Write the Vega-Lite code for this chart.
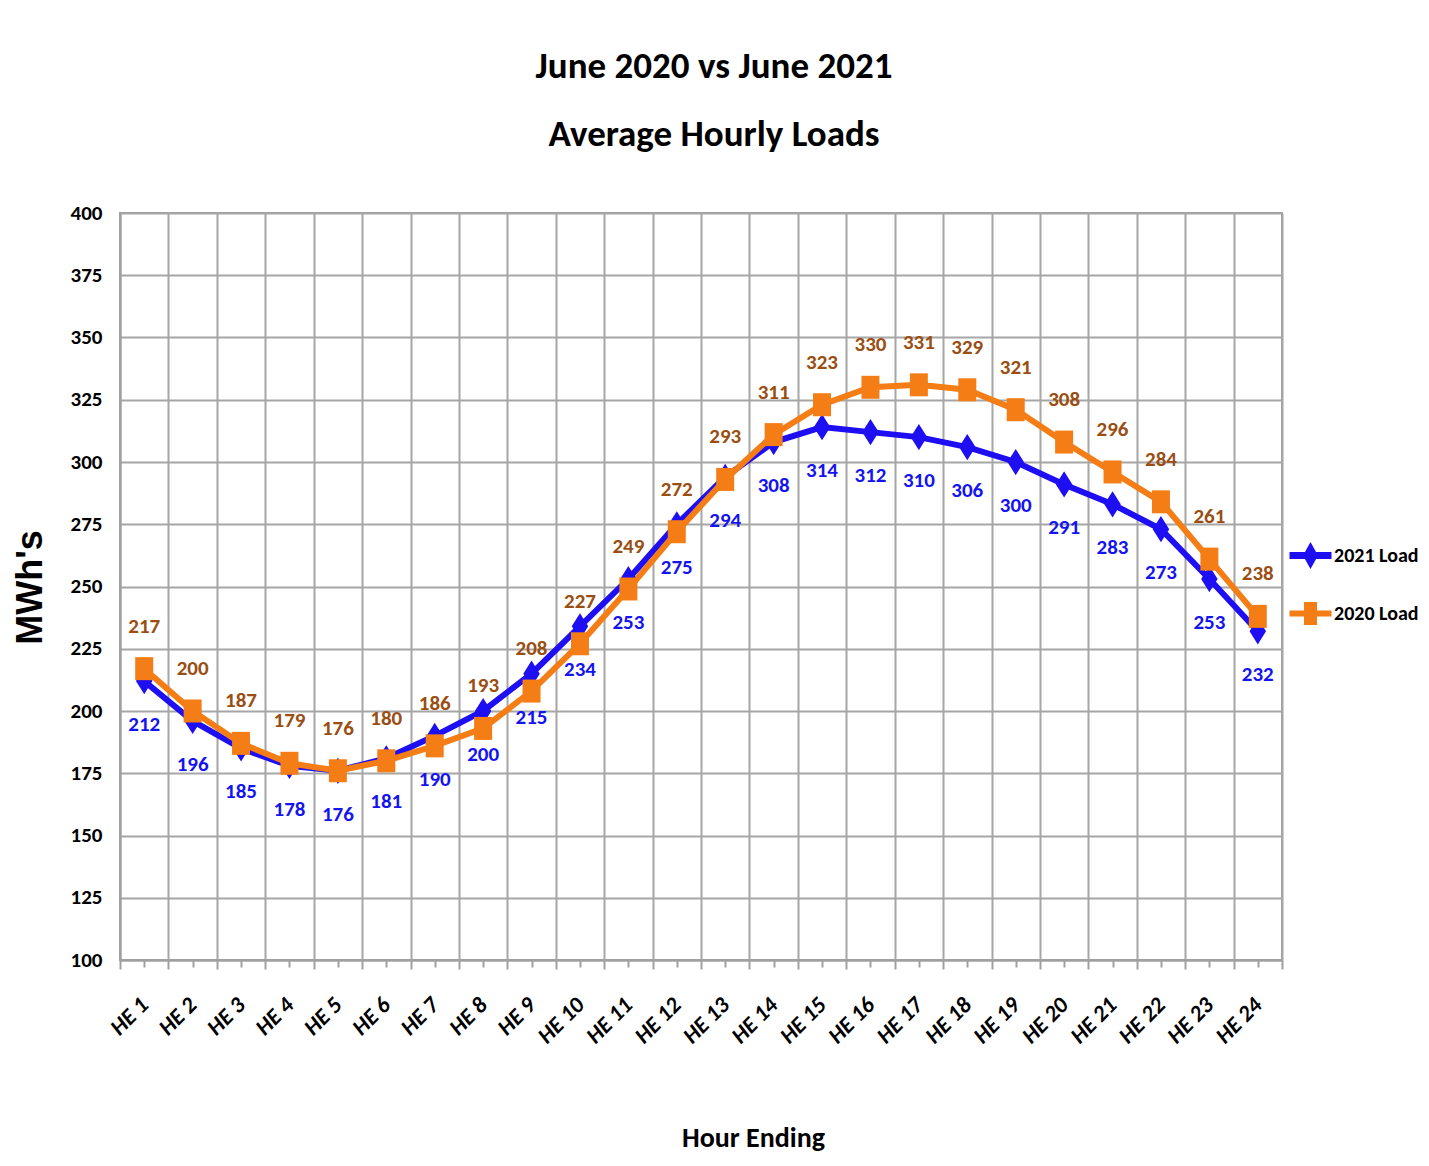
{
  "$schema": "https://vega.github.io/schema/vega-lite/v6.json",
  "autosize": "none",
  "width": 1162,
  "height": 747,
  "padding": {"left": 120, "top": 213, "right": 147, "bottom": 206},
  "background": "white",
  "title": {
    "text": ["June 2020 vs June 2021", "Average Hourly Loads"],
    "font": "Carlito, Lato, sans-serif",
    "fontWeight": "bold",
    "fontSize": 37,
    "lineHeight": 68,
    "color": "black",
    "anchor": "middle",
    "dx": 13,
    "offset": 48
  },
  "config": {
    "view": {"stroke": "#A0A0A0", "strokeWidth": 2},
    "axis": {"gridColor": "#A6A6A6", "gridWidth": 2, "gridOpacity": 1, "domainColor": "#A0A0A0", "domainWidth": 2, "tickColor": "#A0A0A0", "tickWidth": 2}
  },
  "data": {
    "values": [
      {"hour": 1, "series": "2021 Load", "load": 212},
      {"hour": 2, "series": "2021 Load", "load": 196},
      {"hour": 3, "series": "2021 Load", "load": 185},
      {"hour": 4, "series": "2021 Load", "load": 178},
      {"hour": 5, "series": "2021 Load", "load": 176},
      {"hour": 6, "series": "2021 Load", "load": 181},
      {"hour": 7, "series": "2021 Load", "load": 190},
      {"hour": 8, "series": "2021 Load", "load": 200},
      {"hour": 9, "series": "2021 Load", "load": 215},
      {"hour": 10, "series": "2021 Load", "load": 234},
      {"hour": 11, "series": "2021 Load", "load": 253},
      {"hour": 12, "series": "2021 Load", "load": 275},
      {"hour": 13, "series": "2021 Load", "load": 294},
      {"hour": 14, "series": "2021 Load", "load": 308},
      {"hour": 15, "series": "2021 Load", "load": 314},
      {"hour": 16, "series": "2021 Load", "load": 312},
      {"hour": 17, "series": "2021 Load", "load": 310},
      {"hour": 18, "series": "2021 Load", "load": 306},
      {"hour": 19, "series": "2021 Load", "load": 300},
      {"hour": 20, "series": "2021 Load", "load": 291},
      {"hour": 21, "series": "2021 Load", "load": 283},
      {"hour": 22, "series": "2021 Load", "load": 273},
      {"hour": 23, "series": "2021 Load", "load": 253},
      {"hour": 24, "series": "2021 Load", "load": 232},
      {"hour": 1, "series": "2020 Load", "load": 217},
      {"hour": 2, "series": "2020 Load", "load": 200},
      {"hour": 3, "series": "2020 Load", "load": 187},
      {"hour": 4, "series": "2020 Load", "load": 179},
      {"hour": 5, "series": "2020 Load", "load": 176},
      {"hour": 6, "series": "2020 Load", "load": 180},
      {"hour": 7, "series": "2020 Load", "load": 186},
      {"hour": 8, "series": "2020 Load", "load": 193},
      {"hour": 9, "series": "2020 Load", "load": 208},
      {"hour": 10, "series": "2020 Load", "load": 227},
      {"hour": 11, "series": "2020 Load", "load": 249},
      {"hour": 12, "series": "2020 Load", "load": 272},
      {"hour": 13, "series": "2020 Load", "load": 293},
      {"hour": 14, "series": "2020 Load", "load": 311},
      {"hour": 15, "series": "2020 Load", "load": 323},
      {"hour": 16, "series": "2020 Load", "load": 330},
      {"hour": 17, "series": "2020 Load", "load": 331},
      {"hour": 18, "series": "2020 Load", "load": 329},
      {"hour": 19, "series": "2020 Load", "load": 321},
      {"hour": 20, "series": "2020 Load", "load": 308},
      {"hour": 21, "series": "2020 Load", "load": 296},
      {"hour": 22, "series": "2020 Load", "load": 284},
      {"hour": 23, "series": "2020 Load", "load": 261},
      {"hour": 24, "series": "2020 Load", "load": 238}
    ]
  },
  "resolve": {"axis": {"x": "independent", "y": "independent"}},
  "layer": [
    {
      "transform": [{"filter": "datum.series === '2021 Load'"}],
      "mark": {"type": "line", "strokeWidth": 6, "color": "#1E0EF2"},
      "encoding": {
        "x": {"field": "hour", "type": "quantitative", "scale": {"domain": [0.5, 24.5], "nice": false, "zero": false},
          "axis": {"orient": "bottom", "values": [0.5,1.5,2.5,3.5,4.5,5.5,6.5,7.5,8.5,9.5,10.5,11.5,12.5,13.5,14.5,15.5,16.5,17.5,18.5,19.5,20.5,21.5,22.5,23.5,24.5], "grid": true, "labels": false, "tickSize": 9, "title": null}},
        "y": {"field": "load", "type": "quantitative", "scale": {"domain": [100, 400], "nice": false, "zero": false},
          "axis": {"values": [100,125,150,175,200,225,250,275,300,325,350,375,400], "grid": true, "tickSize": 0, "labelPadding": 18,
            "labelFont": "Carlito, Lato, sans-serif", "labelFontWeight": "bold", "labelFontSize": 21, "labelColor": "black",
            "title": "MWh's", "titleFont": "Liberation Sans", "titleFontWeight": "bold", "titleFontSize": 36, "titleColor": "black",
            "titleX": -90, "titleY": 374, "titleAlign": "center", "titleBaseline": "middle", "titleAngle": -90}}
      }
    },
    {
      "transform": [{"filter": "datum.series === '2020 Load'"}],
      "mark": {"type": "line", "strokeWidth": 6, "color": "#F57D15"},
      "encoding": {
        "x": {"field": "hour", "type": "quantitative", "axis": null},
        "y": {"field": "load", "type": "quantitative", "axis": null}
      }
    },
    {
      "transform": [{"filter": "datum.series === '2021 Load'"}],
      "mark": {"type": "point", "filled": true, "opacity": 1, "size": 625, "color": "#1E0EF2", "shape": "M0,-1.05 L0.66,0 L0,1.05 L-0.66,0 Z"},
      "encoding": {
        "x": {"field": "hour", "type": "quantitative",
          "axis": {"orient": "bottom", "values": [1,2,3,4,5,6,7,8,9,10,11,12,13,14,15,16,17,18,19,20,21,22,23,24], "grid": false, "domain": false, "tickSize": 7,
            "labelExpr": "'HE ' + datum.value", "labelAngle": -45, "labelAlign": "right", "labelBaseline": "middle", "labelPadding": 34, "labelOverlap": false,
            "labelFont": "Carlito, Lato, sans-serif", "labelFontWeight": "bold", "labelFontStyle": "italic", "labelFontSize": 23, "labelColor": "black",
            "title": "Hour Ending", "titleFont": "Carlito, Lato, sans-serif", "titleFontWeight": "bold", "titleFontSize": 28, "titleColor": "black",
            "titleX": 633, "titleY": 178, "titleAlign": "center", "titleBaseline": "middle"}},
        "y": {"field": "load", "type": "quantitative", "axis": null}
      }
    },
    {
      "transform": [{"filter": "datum.series === '2020 Load'"}],
      "mark": {"type": "point", "filled": true, "opacity": 1, "size": 625, "color": "#F57D15", "shape": "M-0.72,-0.92 H0.72 V0.92 H-0.72 Z"},
      "encoding": {
        "x": {"field": "hour", "type": "quantitative", "axis": null},
        "y": {"field": "load", "type": "quantitative", "axis": null}
      }
    },
    {
      "transform": [{"filter": "datum.load < 0"}],
      "mark": {"type": "point", "filled": true, "opacity": 1, "size": 625},
      "encoding": {
        "x": {"field": "hour", "type": "quantitative", "axis": null},
        "y": {"field": "load", "type": "quantitative", "axis": null},
        "color": {"field": "series", "type": "nominal", "scale": {"domain": ["2021 Load", "2020 Load"], "range": ["#1E0EF2", "#F57D15"]},
          "legend": {"orient": "none", "legendX": 1177, "legendY": 329, "title": null, "symbolSize": 625, "rowPadding": 31, "labelOffset": 10,
            "labelFont": "Carlito, Lato, sans-serif", "labelFontWeight": "bold", "labelFontSize": 20, "labelColor": "black"}},
        "shape": {"field": "series", "type": "nominal", "scale": {"domain": ["2021 Load", "2020 Load"], "range": ["M-1.68,-0.28 H1.68 V0.28 H-1.68 Z M0,-1.08 L0.6,0 L0,1.08 L-0.6,0 Z", "M-1.68,-0.24 H1.68 V0.24 H-1.68 Z M-0.52,-0.92 H0.52 V0.92 H-0.52 Z"]}}
      }
    },
    {
      "transform": [{"filter": "datum.series === '2021 Load'"}],
      "mark": {"type": "text", "dy": 44, "font": "Carlito, Lato, sans-serif", "fontWeight": "bold", "fontSize": 21, "color": "#1414F0", "baseline": "middle", "align": "center"},
      "encoding": {
        "x": {"field": "hour", "type": "quantitative", "axis": null},
        "y": {"field": "load", "type": "quantitative", "axis": null},
        "text": {"field": "load", "type": "quantitative"}
      }
    },
    {
      "transform": [{"filter": "datum.series === '2020 Load'"}],
      "mark": {"type": "text", "dy": -42, "font": "Carlito, Lato, sans-serif", "fontWeight": "bold", "fontSize": 21, "color": "#9A4E12", "baseline": "middle", "align": "center"},
      "encoding": {
        "x": {"field": "hour", "type": "quantitative", "axis": null},
        "y": {"field": "load", "type": "quantitative", "axis": null},
        "text": {"field": "load", "type": "quantitative"}
      }
    }
  ]
}
